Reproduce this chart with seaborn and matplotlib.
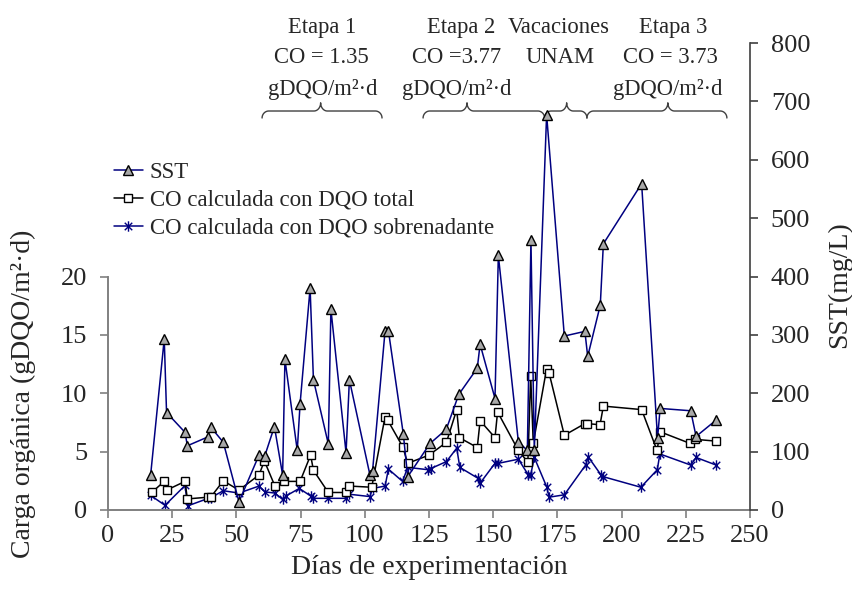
import matplotlib
matplotlib.use("Agg")
import numpy as np
import pandas as pd
import seaborn as sns
import matplotlib.pyplot as plt
from matplotlib.lines import Line2D
from matplotlib.path import Path

# ---------------- data ----------------
sst_days = [16.6, 21.9, 22.8, 30.0, 30.9, 38.8, 40.0, 44.9, 51.0, 58.8, 61.0, 64.8,
            68.0, 68.9, 73.7, 74.8, 78.7, 80.0, 85.8, 86.8, 92.7, 94.0, 102.0, 103.0,
            107.9, 109.2, 115.0, 116.7, 125.4, 131.7, 136.6, 143.8, 144.9, 150.7, 152.0,
            159.8, 163.3, 164.7, 166.0, 170.8, 177.7, 185.7, 186.8, 191.7, 192.9, 207.8,
            214.0, 215.0, 226.9, 229.0, 236.8]
sst_vals = [60, 293, 167, 133, 110, 125, 142, 116, 14, 94, 92, 143,
            60, 258, 102, 182, 380, 223, 113, 344, 98, 223, 60, 66,
            307, 307, 130, 57, 114, 138, 198, 243, 284, 191, 436,
            117, 102, 463, 102, 677, 298, 306, 263, 351, 456, 559,
            123, 174, 170, 126, 154]

tot_days = [17.0, 21.9, 22.8, 30.0, 30.9, 39.1, 40.0, 44.9, 51.0, 58.8, 60.9, 65.0,
            68.7, 74.8, 78.9, 80.0, 85.8, 92.7, 94.0, 102.7, 107.9, 108.9, 114.8, 116.7,
            125.0, 131.8, 135.8, 136.8, 143.8, 144.9, 150.7, 151.7, 159.8, 163.5, 164.6,
            165.6, 170.8, 171.8, 177.7, 185.7, 186.6, 191.6, 192.9, 207.8, 213.8, 215.0,
            226.7, 228.7, 236.8]
tot_vals = [1.5, 2.45, 1.7, 2.45, 0.95, 1.1, 1.1, 2.5, 1.7, 3.0, 4.2, 2.05,
            2.45, 2.45, 4.7, 3.4, 1.5, 1.5, 2.05, 1.95, 8.0, 7.7, 5.4, 4.0,
            4.7, 5.8, 8.6, 6.2, 5.35, 7.65, 6.2, 8.4, 5.1, 4.1, 11.5,
            5.7, 12.1, 11.7, 6.4, 7.4, 7.4, 7.3, 8.9, 8.6, 5.1, 6.7,
            5.7, 6.05, 5.9]

sob_days = [16.6, 22.2, 30.0, 31.0, 39.1, 40.0, 44.9, 51.0, 58.8, 61.1, 65.0, 68.0,
            69.3, 74.5, 78.9, 80.0, 85.8, 92.7, 94.0, 102.0, 103.0, 107.9, 109.2, 114.7,
            116.7, 124.7, 125.7, 131.8, 135.8, 137.0, 144.2, 144.9, 150.7, 152.0, 159.8,
            163.7, 164.6, 166.0, 170.8, 171.8, 177.7, 186.0, 187.0, 192.0, 192.9, 207.5,
            213.9, 214.9, 226.9, 229.0, 236.8]
sob_vals = [1.25, 0.4, 2.1, 0.35, 1.0, 1.05, 1.65, 1.45, 2.05, 1.55, 1.45, 0.9,
            1.2, 1.85, 1.2, 1.0, 1.0, 1.0, 1.35, 1.15, 1.85, 2.05, 3.5, 2.45,
            3.65, 3.45, 3.55, 4.15, 5.3, 3.65, 2.7, 2.3, 4.0, 4.0, 4.35,
            3.0, 3.0, 4.5, 2.0, 1.1, 1.3, 3.85, 4.55, 3.0, 2.85, 1.95,
            3.45, 4.8, 3.85, 4.5, 3.85]

labels = ["SST", "CO calculada con DQO total", "CO calculada con DQO sobrenadante"]
x_ticks = list(range(0, 251, 25))
left_ticks = [0, 5, 10, 15, 20]
right_ticks = list(range(0, 801, 100))

stage_labels = [
    ("Etapa 1", "CO = 1.35", "gDQO/m²·d"),
    ("Etapa 2", "CO =3.77", "gDQO/m²·d"),
    ("Vacaciones", "UNAM", ""),
    ("Etapa 3", "CO = 3.73", "gDQO/m²·d"),
]
stage_text_x = [(83.3, 83.0, 83.5), (137.5, 135.9, 135.9), (175.4, 176.0, 176.0), (220.0, 219.2, 218.0)]
braces = [(60.0, 106.7, 82.8), (122.7, 170.0, 139.8), (170.0, 186.5, 178.6), (186.5, 241.0, 218.0)]

# ---------------- style ----------------
sns.set_style("white")
plt.rcParams["font.family"] = ["Liberation Serif", "DejaVu Serif"]

navy = "#000080"
W, H = 853, 601
fig = plt.figure(figsize=(W / 100, H / 100), dpi=100)
L, R, B, T = 108, 750, 510, 43
ax = fig.add_axes([L / W, (H - B) / H, (R - L) / W, (B - T) / H])
ax2 = ax.twinx()

star = Path([(0, -1), (0, 1), (-0.72, -0.72), (0.72, 0.72), (-0.72, 0.72), (0.72, -0.72)],
            [Path.MOVETO, Path.LINETO] * 3)

df_tot = pd.DataFrame({"dia": tot_days, "co": tot_vals})
df_sob = pd.DataFrame({"dia": sob_days, "co": sob_vals})
df_sst = pd.DataFrame({"dia": sst_days, "sst": sst_vals})

sns.lineplot(data=df_sob, x="dia", y="co", ax=ax, sort=False, estimator=None,
             color=navy, lw=1.1, marker=star, markersize=7.5, markerfacecolor="none",
             markeredgecolor=navy, markeredgewidth=1.0, legend=False)
sns.lineplot(data=df_tot, x="dia", y="co", ax=ax, sort=False, estimator=None,
             color="black", lw=1.1, marker="s", markersize=5.6, markerfacecolor="white",
             markeredgecolor="black", markeredgewidth=1.0, legend=False)
sns.lineplot(data=df_sst, x="dia", y="sst", ax=ax2, sort=False, estimator=None,
             color=navy, lw=1.1, marker="^", markersize=7.5, markerfacecolor="#a8a8a8",
             markeredgecolor="black", markeredgewidth=1.0, legend=False)

ax.set_xlim(0, 250)
ax.set_ylim(0, 40)
ax2.set_ylim(0, 800)
ax.set_xticks(x_ticks)
ax.set_yticks(left_ticks)
ax2.set_yticks(right_ticks)
ax.set_xlabel("")
ax.set_ylabel("")
ax2.set_ylabel("")
ax.grid(False)
ax2.grid(False)

for a in (ax, ax2):
    a.spines["top"].set_visible(False)
ax.spines["right"].set_visible(False)
ax2.spines["left"].set_visible(False)
ax2.spines["bottom"].set_visible(False)
ax.spines["left"].set_bounds(0, 20)
ax.spines["left"].set_color("#808080")
ax.spines["left"].set_linewidth(1.4)
ax.spines["bottom"].set_color("#808080")
ax.spines["bottom"].set_linewidth(1.4)
ax2.spines["right"].set_color("#404040")
ax2.spines["right"].set_linewidth(1.2)

ax.tick_params(axis="y", direction="out", length=6, width=1.2, color="#808080",
               labelsize=19, pad=9, left=True)
ax.tick_params(axis="x", direction="out", length=6, width=1.2, color="#808080",
               labelsize=19, pad=5, bottom=True)
ax2.tick_params(axis="y", direction="out", length=6, width=1.2, color="#404040",
                labelsize=19, pad=9, right=True)

# axis titles
fig.text(23 / W, 1 - 393.5 / H, "Carga orgánica (gDQO/m²·d)", rotation=90,
         ha="center", va="center", fontsize=20)
fig.text(840 / W, 1 - 285 / H, "SST(mg/L)", rotation=90, ha="center", va="center",
         fontsize=20)
fig.text((L + R) / 2 / W, 1 - 567 / H, "Días de experimentación", ha="center",
         va="center", fontsize=20)

# braces
def draw_brace(a, x0, x1, xt, yb=683.5, ht=14.0, he=12.0, r=2.6):
    t = np.linspace(0, np.pi / 2, 20)
    xs, ys = [], []
    xs += list(x0 + r - r * np.cos(t)); ys += list(yb - he + he * np.sin(t))
    xs += list(xt - r + r * np.sin(t)); ys += list(yb + ht - ht * np.cos(t))
    xs += list(xt + r - r * np.cos(t)); ys += list(yb + ht - ht * np.sin(t))
    xs += list(x1 - r + r * np.sin(t)); ys += list(yb - he + he * np.cos(t))
    a.plot(xs, ys, color="#404040", lw=1.0, clip_on=False, zorder=1)

for (x0, x1, xt) in braces:
    draw_brace(ax2, x0, x1, xt)

line_y = [817, 766, 711]
for lines, xs in zip(stage_labels, stage_text_x):
    for txt, xx, yy in zip(lines, xs, line_y):
        if txt:
            ax2.text(xx, yy, txt, ha="center", va="baseline", fontsize=16.3, clip_on=False)

# legend
handles = [
    Line2D([], [], color=navy, lw=1.1, marker="^", markersize=7.5, markerfacecolor="#a8a8a8",
           markeredgecolor="black", markeredgewidth=1.0),
    Line2D([], [], color="black", lw=1.1, marker="s", markersize=5.6, markerfacecolor="white",
           markeredgecolor="black", markeredgewidth=1.0),
    Line2D([], [], color=navy, lw=1.1, marker=star, markersize=7.5, markerfacecolor="none",
           markeredgecolor=navy, markeredgewidth=1.0),
]
fig.legend(handles, labels, loc="upper left", bbox_to_anchor=(114 / W, 1 - 162 / H),
           frameon=False, fontsize=16.5, handlelength=1.25, handletextpad=0.3,
           labelspacing=0.3, borderpad=0, borderaxespad=0)

fig.savefig("out.png", dpi=100)
